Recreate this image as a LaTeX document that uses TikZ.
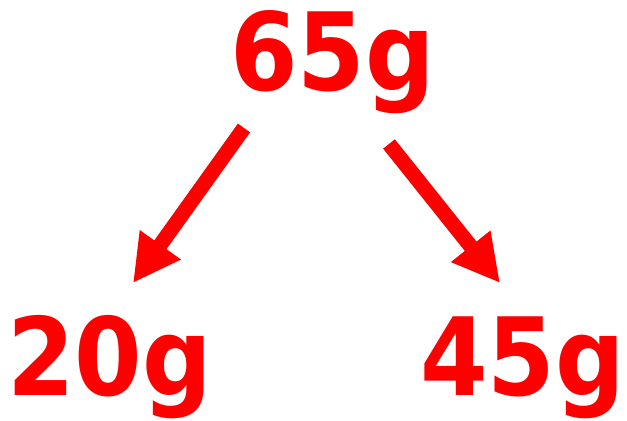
\documentclass[tikz,border=0pt]{standalone}
\usepackage{fontspec}
\setmainfont{DejaVu Sans Condensed}[BoldFont={DejaVu Sans Condensed Bold}]
\usepackage{tikz}
\usetikzlibrary{arrows.meta,positioning,calc}
\definecolor{SplitRed}{HTML}{FF0000}

\begin{document}
\begin{tikzpicture}[
    x=1bp, y=1bp,
    mass/.style={inner sep=0pt, anchor=base, text=SplitRed,
      font=\fontsize{108bp}{112bp}\selectfont\bfseries},
    arrow/.style={-{Triangle[length=47bp,width=47bp]}, line width=15bp, color=SplitRed}
  ]
    \useasboundingbox (0,0) rectangle (627,420);
    \node[mass] (total) at (332.5,330) {65g};
    \node[mass] (part1) at (109.5,25) {20g};
    \node[mass] (part2) at (522.5,25) {45g};
    \draw[arrow] ([shift={(-88.5,-38)}]total.base) -- ([shift={(23.5,112)}]part1.base);
    \draw[arrow] ([shift={(56.5,-54)}]total.base) -- ([shift={(-22.5,112)}]part2.base);
  \end{tikzpicture}
\end{document}
